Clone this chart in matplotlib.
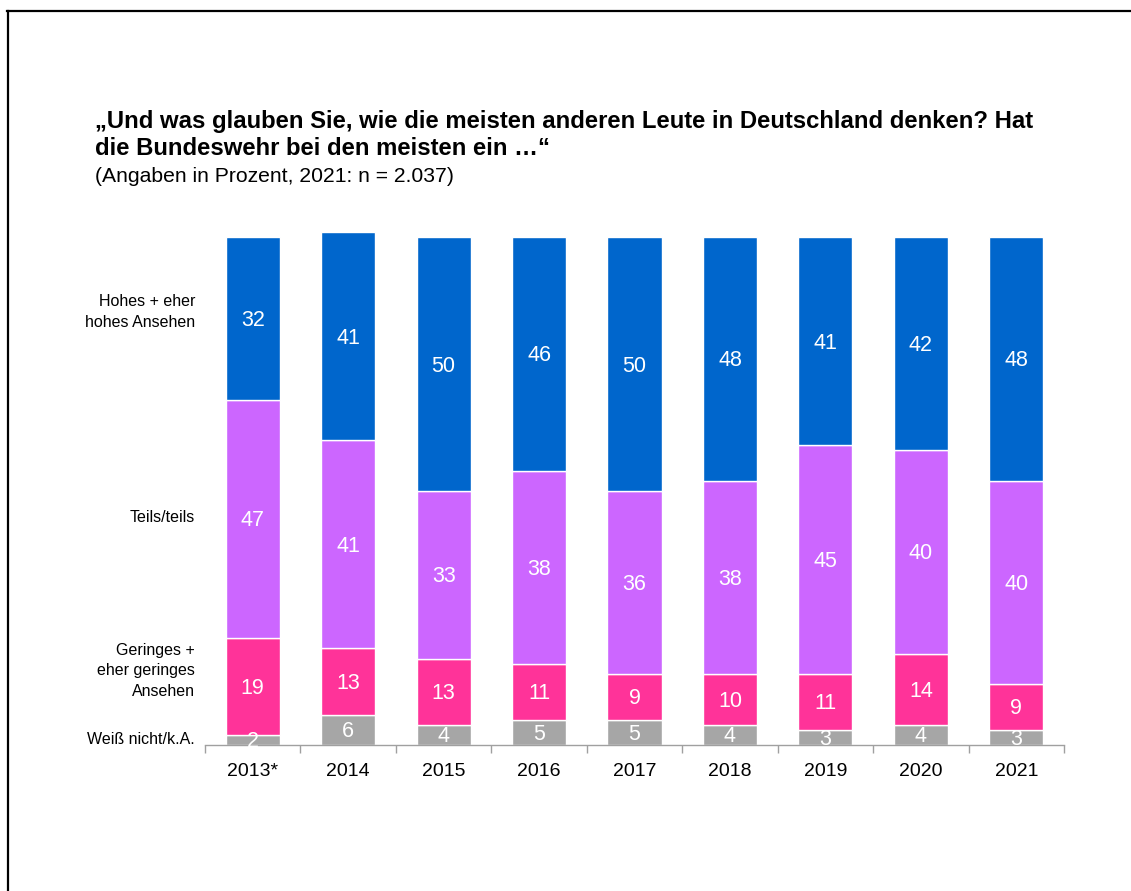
import matplotlib
matplotlib.use("Agg")
import matplotlib.pyplot as plt
from matplotlib.lines import Line2D
import matplotlib.transforms as mtransforms
import numpy as np

plt.rcParams['font.family'] = ['Liberation Sans', 'DejaVu Sans']

years = ["2013*", "2014", "2015", "2016", "2017", "2018", "2019", "2020", "2021"]
weiss_nicht = [2, 6, 4, 5, 5, 4, 3, 4, 3]
geringes = [19, 13, 13, 11, 9, 10, 11, 14, 9]
teils = [47, 41, 33, 38, 36, 38, 45, 40, 40]
hohes = [32, 41, 50, 46, 50, 48, 41, 42, 48]

series = [weiss_nicht, geringes, teils, hohes]
colors = ["#A6A6A6", "#FF3399", "#CC66FF", "#0066CC"]
series_labels = ["Weiß nicht/k.A.", "Geringes +\neher geringes\nAnsehen", "Teils/teils",
                 "Hohes + eher\nhohes Ansehen"]

W, H = 1131, 891
fig = plt.figure(figsize=(W / 100, H / 100), dpi=100)
ax = fig.add_axes([205 / W, (H - 745) / H, 859 / W, 508 / H])

label_tr = ax.transData + mtransforms.ScaledTranslation(0, -2 / 100, fig.dpi_scale_trans)

x = np.arange(len(years))
bottom = np.zeros(len(years))
for vals, col in zip(series, colors):
    v = np.array(vals, dtype=float)
    ax.bar(x, v, bottom=bottom, width=0.566, color=col, edgecolor="white",
           linewidth=1.0, clip_on=False, zorder=2)
    for xi, b, val in zip(x, bottom, v):
        ax.text(xi, b + val / 2, f"{int(val)}", ha="center", va="center",
                color="white", fontsize=15.5, zorder=3, transform=label_tr)
    bottom += v

ax.set_xlim(-0.5, len(years) - 0.5)
ax.set_ylim(0, 100)
for s in ["top", "right", "left"]:
    ax.spines[s].set_visible(False)
ax.spines["bottom"].set_color("#A0A0A0")
ax.spines["bottom"].set_linewidth(1.0)
ax.set_yticks([])
ax.set_xticks(x)
ax.set_xticklabels(years, fontsize=14)
ax.tick_params(axis="x", which="major", length=0, pad=13)
ax.set_xticks(np.arange(-0.5, len(years)), minor=True)
ax.tick_params(axis="x", which="minor", length=6, color="#A0A0A0", width=1.0, direction="out")

# left category labels
label_y = [739, 671, 518, 312]
for lbl, yy in zip(series_labels, label_y):
    fig.text(195 / W, 1 - yy / H, lbl, ha="right", va="center", fontsize=11.5,
             linespacing=1.45)

# title
fig.text(95 / W, 1 - 135 / H,
         "„Und was glauben Sie, wie die meisten anderen Leute in Deutschland denken? Hat\n"
         "die Bundeswehr bei den meisten ein …“",
         ha="left", va="center", fontsize=17.2, fontweight="bold", linespacing=1.2)
fig.text(95 / W, 1 - 176 / H, "(Angaben in Prozent, 2021: n = 2.037)",
         ha="left", va="center", fontsize=15.2)

# frame lines (left and top)
fig.add_artist(Line2D([7.5 / W, 7.5 / W], [0, 1 - 11 / H], color="black", linewidth=1.6,
                      transform=fig.transFigure))
fig.add_artist(Line2D([7 / W, 1], [1 - 11 / H, 1 - 11 / H], color="black", linewidth=1.6,
                      transform=fig.transFigure))

fig.savefig("out.png", dpi=100)
